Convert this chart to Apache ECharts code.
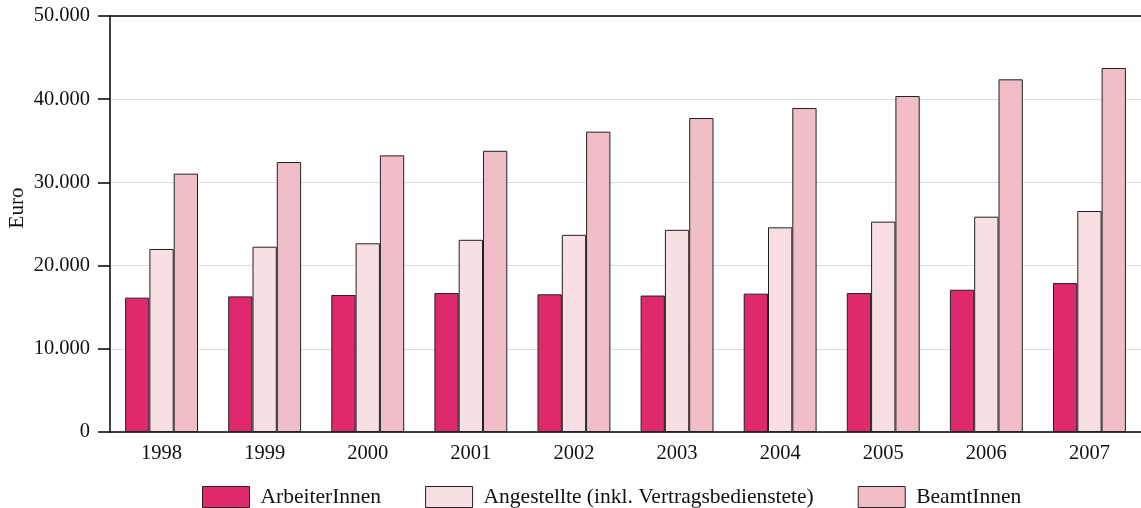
<!DOCTYPE html>
<html>
<head>
<meta charset="utf-8">
<script src="https://cdn.jsdelivr.net/npm/echarts@6/dist/echarts.min.js"></script>
<style>
html,body{margin:0;padding:0;background:#fff;}
#c{width:1141px;height:508px;}
</style>
</head>
<body>
<div id="c"></div>
<script>
var years = ['1998','1999','2000','2001','2002','2003','2004','2005','2006','2007'];
var arbeiter = [16150, 16300, 16470, 16700, 16550, 16400, 16630, 16700, 17100, 17900];
var angestellte = [22000, 22270, 22680, 23100, 23700, 24300, 24600, 25280, 25880, 26560];
var beamte = [31050, 32450, 33250, 33800, 36100, 37740, 38940, 40380, 42390, 43750];
var seriesNames = ['ArbeiterInnen', 'Angestellte (inkl. Vertragsbedienstete)', 'BeamtInnen'];
var yAxisTitle = 'Euro';

var FONT = "'Liberation Serif', 'Times New Roman', serif";
var colors = ['#E0286C', '#F8DFE3', '#F1BEC8'];

function fmt(v){ return String(v).replace(/\B(?=(\d{3})+(?!\d))/g, '.'); }

var chart = echarts.init(document.getElementById('c'), null, {renderer:'canvas'});
function bar(name, data, color){
  return {
    name: name, type: 'bar', data: data,
    barWidth: 24.3, barGap: '0%',
    itemStyle: {color: color, borderColor: '#222', borderWidth: 1},
    emphasis: {disabled: true}
  };
}
chart.setOption({
  animation: false,
  textStyle: {fontFamily: FONT},
  grid: {left: 110, right: 0, top: 16, bottom: 76, containLabel: false},
  legend: {
    left: 197, top: 481,
    itemWidth: 47, itemHeight: 21, itemGap: 44,
    icon: 'rect',
    itemStyle: {borderColor: '#222', borderWidth: 1},
    textStyle: {fontFamily: FONT, fontSize: 21.5, lineHeight: 21, color: '#111', padding: [0, 0, 0, 6]},
    data: seriesNames
  },
  graphic: [{
    type: 'text', x: 17, y: 208, rotation: Math.PI/2,
    style: {text: yAxisTitle, font: '21px ' + FONT, fill: '#111', textAlign: 'center', textVerticalAlign: 'middle'}
  }],
  xAxis: [{
    type: 'category', data: years,
    axisLine: {lineStyle: {color: '#000', width: 1.5}},
    axisTick: {show: false},
    axisLabel: {fontFamily: FONT, fontSize: 20.5, color: '#111', margin: 11}
  }, {
    type: 'category', data: years, position: 'top',
    axisLine: {show: true, onZero: false, lineStyle: {color: '#000', width: 1.5}},
    axisTick: {show: false}, axisLabel: {show: false}
  }],
  yAxis: {
    type: 'value', min: 0, max: 50000, interval: 10000,
    axisLine: {show: true, lineStyle: {color: '#000', width: 1.5}},
    axisTick: {show: true, length: 12, lineStyle: {color: '#000', width: 1.5}},
    axisLabel: {fontFamily: FONT, fontSize: 20.5, color: '#111', margin: 20, formatter: fmt, padding: [3, 0, 0, 0]},
    splitLine: {lineStyle: {color: '#dcdcdc', width: 1}}
  },
  series: [
    bar(seriesNames[0], arbeiter, colors[0]),
    bar(seriesNames[1], angestellte, colors[1]),
    bar(seriesNames[2], beamte, colors[2])
  ]
});
</script>
</body>
</html>
